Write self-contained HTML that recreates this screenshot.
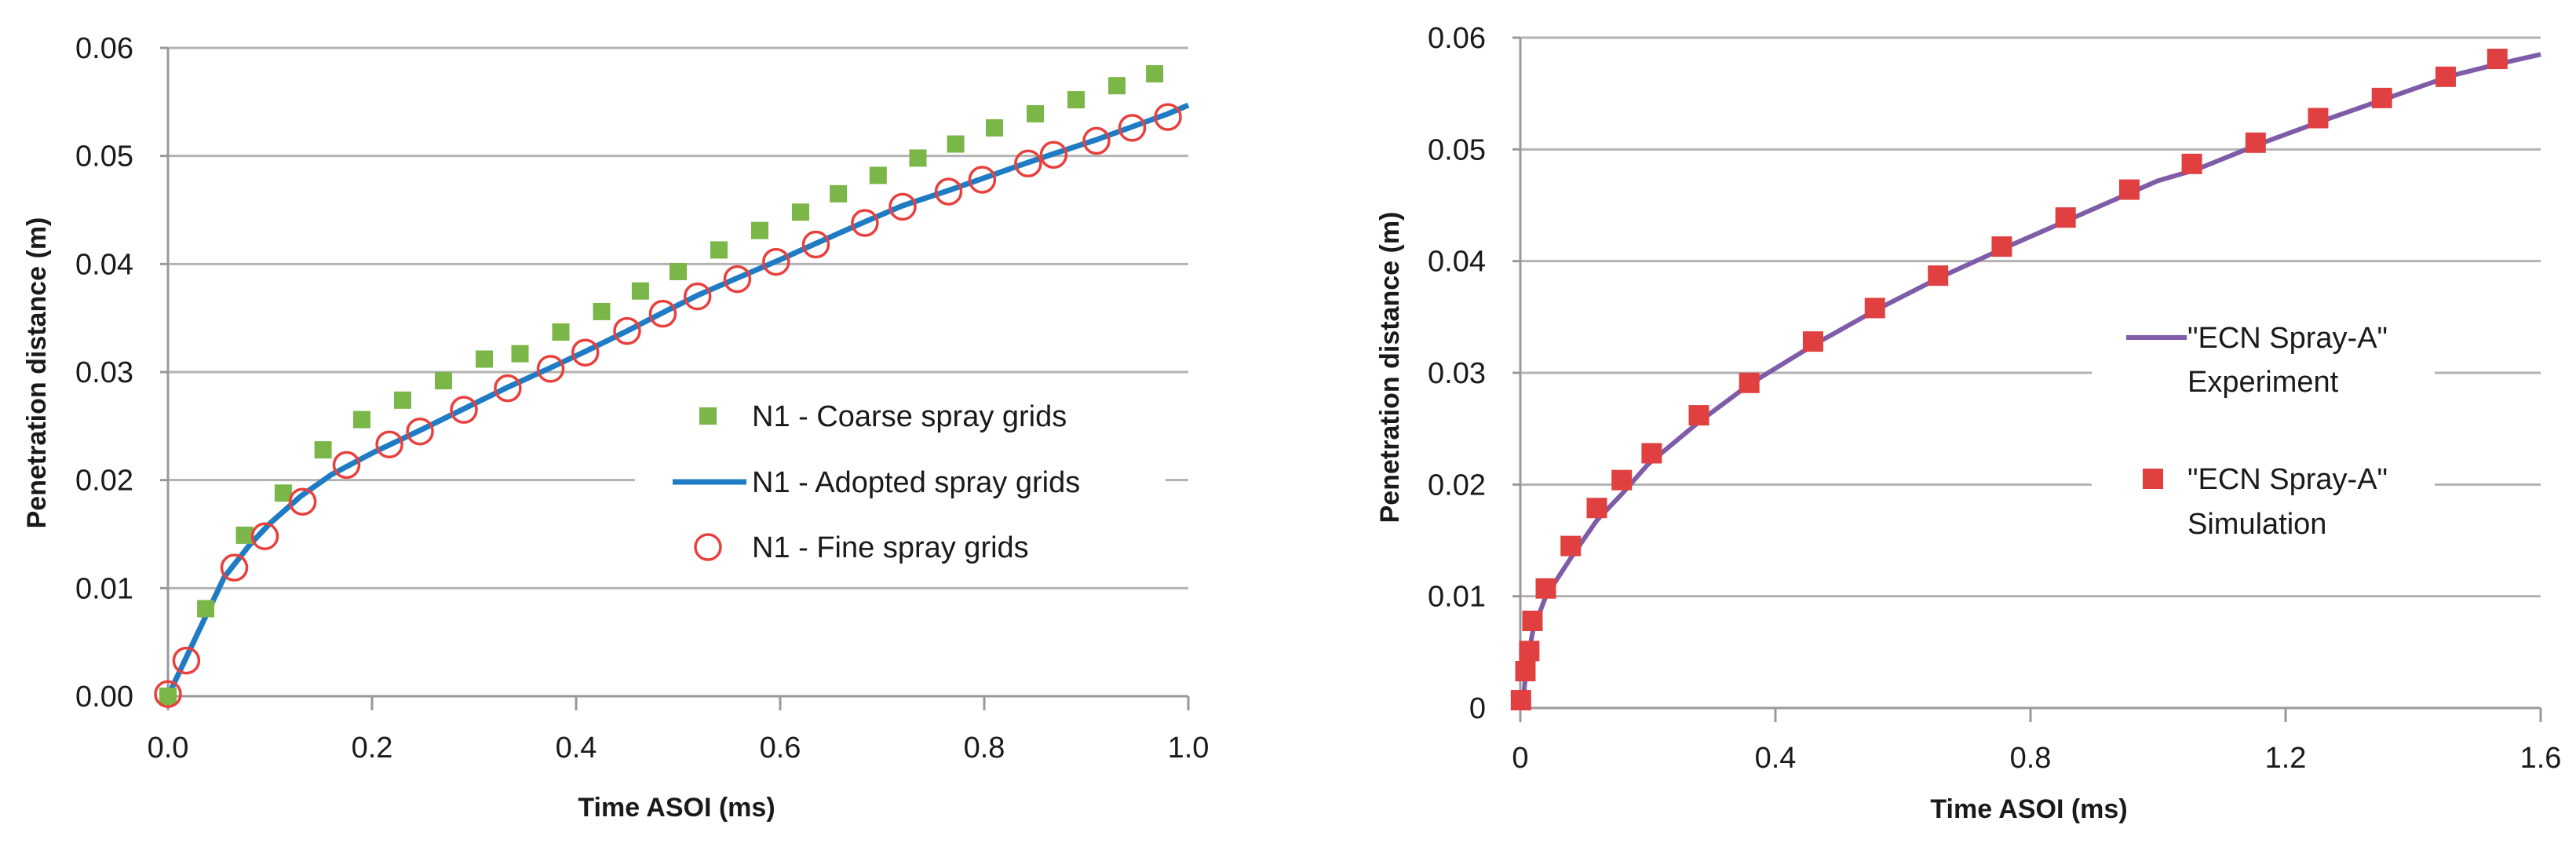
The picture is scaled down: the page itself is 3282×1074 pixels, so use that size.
<!DOCTYPE html>
<html><head><meta charset="utf-8">
<style>
html,body{margin:0;padding:0;background:#fff}
svg{display:block}
text{font-family:"Liberation Sans",sans-serif;fill:#1a1a1a}
</style></head>
<body>
<svg id="chart" width="3282" height="1074" viewBox="0 0 3282 1074" xmlns="http://www.w3.org/2000/svg">
<g id="left"></g>
<g id="right"></g>
</svg>
<script>
// ---- Left chart data ----
const leftYTicks = [0, 0.01, 0.02, 0.03, 0.04, 0.05, 0.06];
const leftYTickLabels = ["0.00","0.01","0.02","0.03","0.04","0.05","0.06"];
const leftXTicks = [0, 0.2, 0.4, 0.6, 0.8, 1.0];
const leftXTickLabels = ["0.0","0.2","0.4","0.6","0.8","1.0"];
const coarseX = [0,0.037,0.075,0.113,0.152,0.19,0.23,0.27,0.31,0.345,0.385,0.425,0.463,0.50,0.54,0.58,0.62,0.657,0.696,0.735,0.772,0.81,0.85,0.89,0.93,0.967];
const coarseY = [0,0.0081,0.0149,0.0188,0.0228,0.0256,0.0274,0.0292,0.0312,0.0317,0.0337,0.0356,0.0375,0.0393,0.0413,0.0431,0.0448,0.0465,0.0482,0.0498,0.0511,0.0526,0.0539,0.0552,0.0565,0.0576];
const fineX = [0,0.018,0.065,0.095,0.132,0.175,0.217,0.247,0.29,0.333,0.375,0.409,0.45,0.485,0.519,0.558,0.596,0.635,0.683,0.72,0.765,0.798,0.843,0.868,0.91,0.945,0.98];
const fineY = [0.0002,0.0033,0.0119,0.0148,0.018,0.0214,0.0233,0.0245,0.0265,0.0285,0.0303,0.0318,0.0338,0.0354,0.037,0.0386,0.0402,0.0418,0.0438,0.0453,0.0467,0.0478,0.0493,0.0501,0.0514,0.0526,0.0536];
const adoptedX = [0,0.02,0.04,0.055,0.08,0.1,0.13,0.16,0.2,0.247,0.29,0.333,0.375,0.409,0.45,0.485,0.519,0.558,0.6,0.635,0.683,0.72,0.765,0.798,0.843,0.868,0.91,0.945,0.98,1.0];
const adoptedY = [0,0.004,0.008,0.011,0.014,0.016,0.0185,0.0205,0.0225,0.0246,0.0266,0.0286,0.0304,0.0319,0.0338,0.0355,0.0371,0.0387,0.0404,0.0419,0.0439,0.0454,0.0468,0.0479,0.0494,0.0502,0.0515,0.0527,0.0539,0.0547];

// ---- Right chart data ----
const rightYTicks = [0, 0.01, 0.02, 0.03, 0.04, 0.05, 0.06];
const rightYTickLabels = ["0","0.01","0.02","0.03","0.04","0.05","0.06"];
const rightXTicks = [0, 0.4, 0.8, 1.2, 1.6];
const rightXTickLabels = ["0","0.4","0.8","1.2","1.6"];
const simX = [0.001,0.008,0.014,0.019,0.04,0.079,0.12,0.159,0.206,0.28,0.359,0.459,0.556,0.655,0.755,0.855,0.955,1.053,1.153,1.251,1.351,1.451,1.532];
const simY = [0.0007,0.0033,0.0051,0.0078,0.0107,0.0145,0.0179,0.0204,0.0228,0.0262,0.0291,0.0328,0.0358,0.0387,0.0413,0.0439,0.0464,0.0487,0.0506,0.0528,0.0546,0.0565,0.0581];
const expX = [0.005,0.01,0.02,0.04,0.08,0.12,0.16,0.2,0.28,0.36,0.46,0.56,0.66,0.76,0.86,0.96,1.0,1.06,1.16,1.26,1.36,1.46,1.53,1.6];
const expY = [0.001,0.004,0.007,0.010,0.0135,0.0168,0.0192,0.0218,0.0256,0.029,0.0325,0.0357,0.0386,0.0412,0.0437,0.0462,0.0472,0.0482,0.0505,0.0526,0.0546,0.0566,0.0576,0.0585];

const NS = "http://www.w3.org/2000/svg";
function mk(parent, tag, attrs) {
  const e = document.createElementNS(NS, tag);
  for (const k in attrs) e.setAttribute(k, attrs[k]);
  parent.appendChild(e);
  return e;
}

function axes(g, cfg) {
  const sx = v => cfg.x0 + (v - cfg.xmin) / (cfg.xmax - cfg.xmin) * (cfg.x1 - cfg.x0);
  const sy = v => cfg.y0 - (v - cfg.ymin) / (cfg.ymax - cfg.ymin) * (cfg.y0 - cfg.y1);
  cfg.yTicks.forEach((t, i) => {
    if (t > cfg.ymin) {
      const gl = mk(g, "line", {x1: cfg.x0, x2: cfg.x1, y1: sy(t), y2: sy(t), stroke: "#b3b3b3", "stroke-width": 3});
      
      
    }
    const tk = mk(g, "line", {x1: cfg.x0 - 10, x2: cfg.x0, y1: sy(t), y2: sy(t), stroke: "#999", "stroke-width": 3});
    
    
    const tl = mk(g, "text", {x: cfg.yLabelX, y: sy(t) + 13, "text-anchor": "end", "font-size": 38});
    tl.textContent = cfg.yLabels[i];
    
    
  });
  cfg.xTicks.forEach((t, i) => {
    const tk = mk(g, "line", {x1: sx(t), x2: sx(t), y1: cfg.y0, y2: cfg.y0 + 18, stroke: "#999", "stroke-width": 3});
    
    
    const tl = mk(g, "text", {x: sx(t), y: cfg.xLabelY, "text-anchor": "middle", "font-size": 38});
    tl.textContent = cfg.xLabels[i];
    
    
  });
  const ya = mk(g, "line", {x1: cfg.x0, x2: cfg.x0, y1: cfg.y1, y2: cfg.y0, stroke: "#999", "stroke-width": 3});
  
  
  const xa = mk(g, "line", {x1: cfg.x0, x2: cfg.x1, y1: cfg.y0, y2: cfg.y0, stroke: "#999", "stroke-width": 3});
  
  
  const xt = mk(g, "text", {x: cfg.xTitleX, y: cfg.xTitleY, "text-anchor": "middle", "font-size": 34, "font-weight": "bold"});
  xt.textContent = "Time ASOI (ms)";
  
  
  const yt = mk(g, "text", {x: 0, y: 0, "text-anchor": "middle", "font-size": 34, "font-weight": "bold", transform: `translate(${cfg.yTitleX},${cfg.yTitleY}) rotate(-90)`});
  yt.textContent = "Penetration distance (m)";
  
  
  return {sx, sy};
}

function pathD(xs, ys, sx, sy) {
  return xs.map((x, i) => (i ? "L" : "M") + sx(x).toFixed(1) + "," + sy(ys[i]).toFixed(1)).join(" ");
}

// ---- Left chart ----
const L = document.getElementById("left");
const lc = {x0: 214, x1: 1514, y0: 887, y1: 61, xmin: 0, xmax: 1, ymin: 0, ymax: 0.06,
  yTicks: leftYTicks, yLabels: leftYTickLabels, xTicks: leftXTicks, xLabels: leftXTickLabels,
  yLabelX: 170, xLabelY: 965, xTitleX: 862, xTitleY: 1040, yTitleX: 58, yTitleY: 475};
const la = axes(L, lc);
// legend box hides gridline
const lb = mk(L, "rect", {x: 809, y: 500, width: 676, height: 230, fill: "#fff"});


const adopted = mk(L, "path", {d: pathD(adoptedX, adoptedY, la.sx, la.sy), fill: "none", stroke: "#1f7cc4", "stroke-width": 7, "stroke-linejoin": "round"});


coarseX.forEach((x, i) => {
  const r = mk(L, "rect", {x: la.sx(x) - 11, y: la.sy(coarseY[i]) - 11, width: 22, height: 22, fill: "#7ab648"});
  
  
});
fineX.forEach((x, i) => {
  const c = mk(L, "ellipse", {cx: la.sx(x), cy: la.sy(fineY[i]), rx: 16, ry: 16, fill: "none", stroke: "#e8403c", "stroke-width": 3.5});
  
  
});
// legend entries
const le1m = mk(L, "rect", {x: 891, y: 519, width: 22, height: 22, fill: "#7ab648"});


const le2m = mk(L, "line", {x1: 857, x2: 951, y1: 614, y2: 614, stroke: "#1f7cc4", "stroke-width": 7});


const le3m = mk(L, "ellipse", {cx: 902, cy: 697, rx: 16, ry: 16, fill: "none", stroke: "#e8403c", "stroke-width": 3.5});


[["N1 - Coarse spray grids", 543, 'legend-coarse-label'], ["N1 - Adopted spray grids", 627, 'legend-adopted-label'], ["N1 - Fine spray grids", 710, 'legend-fine-label']].forEach(a => {
  const t = mk(L, "text", {x: 958, y: a[1], "font-size": 38});
  t.textContent = a[0];
  
  
});

// ---- Right chart ----
const R = document.getElementById("right");
const rc = {x0: 1937, x1: 3237, y0: 902, y1: 48, xmin: 0, xmax: 1.6, ymin: 0, ymax: 0.06,
  yTicks: rightYTicks, yLabels: rightYTickLabels, xTicks: rightXTicks, xLabels: rightXTickLabels,
  yLabelX: 1893, xLabelY: 978, xTitleX: 2585, xTitleY: 1042, yTitleX: 1782, yTitleY: 468};
const ra = axes(R, rc);
const rb = mk(R, "rect", {x: 2665, y: 400, width: 437, height: 290, fill: "#fff"});


const exp = mk(R, "path", {d: pathD(expX, expY, ra.sx, ra.sy), fill: "none", stroke: "#7e5ca8", "stroke-width": 6, "stroke-linejoin": "round"});


simX.forEach((x, i) => {
  const r = mk(R, "rect", {x: ra.sx(x) - 13, y: ra.sy(simY[i]) - 13, width: 26, height: 26, fill: "#e04040"});
  
  
});
const re1 = mk(R, "line", {x1: 2709, x2: 2786, y1: 430, y2: 430, stroke: "#7e5ca8", "stroke-width": 6});


const re2 = mk(R, "rect", {x: 2730, y: 597, width: 26, height: 26, fill: "#e04040"});


[["\"ECN Spray-A\"", 443, 'legend-experiment-label'], ["Experiment", 499, 'legend-experiment-label-2'], ["\"ECN Spray-A\"", 623, 'legend-simulation-label'], ["Simulation", 680, 'legend-simulation-label-2']].forEach(a => {
  const t = mk(R, "text", {x: 2787, y: a[1], "font-size": 38});
  t.textContent = a[0];
  
  
});
</script>
</body></html>
